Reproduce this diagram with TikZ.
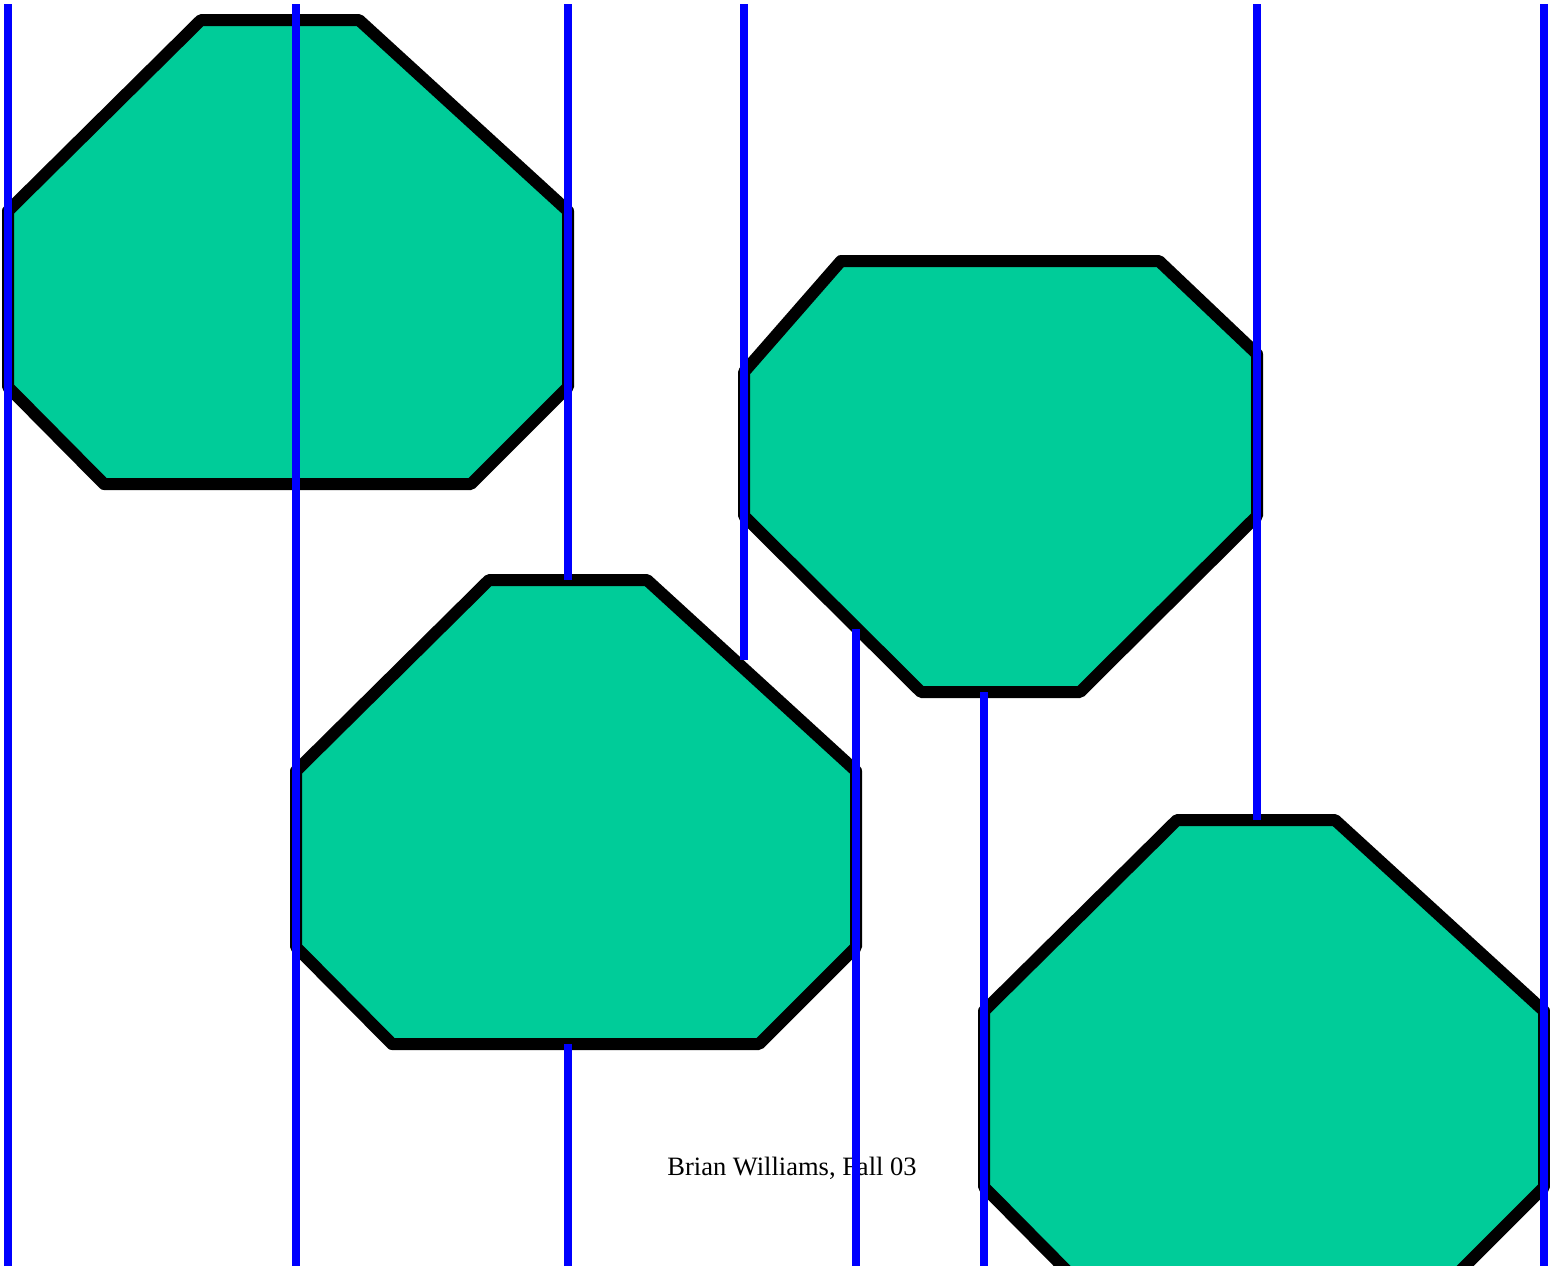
\documentclass[tikz,border=0pt]{standalone}
\usepackage{fontspec}
\setmainfont{Liberation Serif}
\definecolor{octfill}{RGB}{0,204,153}
\definecolor{lineblue}{RGB}{0,0,255}
\tikzset{
  octagon/.style={fill=octfill, draw=black, line width=12pt, line join=round},
  guide/.style={draw=lineblue, line width=8pt, line cap=butt},
  credit/.style={font=\fontsize{26.5}{31}\selectfont, anchor=base, inner sep=0pt}
}
\begin{document}
\begin{tikzpicture}[x=1pt,y=-1pt]
\useasboundingbox (0,0) rectangle (1550,1266);
\clip (0,0) rectangle (1550,1266);
% octagons
\path[octagon] (201,20) -- (359,20) -- (568,211) -- (568,387) -- (471,484) -- (104,484) -- (8,387) -- (8,211) -- cycle;
\path[octagon] (841,261) -- (1159,261) -- (1257,354) -- (1257,516) -- (1080,692) -- (921,692) -- (744,516) -- (744,372) -- cycle;
\path[octagon] (489,580) -- (647,580) -- (856,771) -- (856,947) -- (759,1044) -- (392,1044) -- (296,947) -- (296,771) -- cycle;
\path[octagon] (1177,820) -- (1335,820) -- (1544,1011) -- (1544,1187) -- (1447,1284) -- (1080,1284) -- (984,1187) -- (984,1011) -- cycle;
% credit
\node[credit] (credit) at (792,1175) {Brian Williams, Fall 03};
% guide lines
\coordinate (t1) at (8,4);    \coordinate (b1) at (8,1266);
\coordinate (t2) at (296,4);  \coordinate (b2) at (296,1266);
\coordinate (t3) at (568,4);  \coordinate (e3) at (568,580);
\coordinate (s3) at (568,1044); \coordinate (b3) at (568,1266);
\coordinate (t4) at (744,4);  \coordinate (e4) at (744,660);
\coordinate (s5) at (856,629); \coordinate (b5) at (856,1266);
\coordinate (s6) at (984,692); \coordinate (b6) at (984,1266);
\coordinate (t7) at (1257,4); \coordinate (e7) at (1257,820);
\coordinate (t8) at (1544,4); \coordinate (b8) at (1544,1266);
\draw[guide] (t1) -- (b1);
\draw[guide] (t2) -- (b2);
\draw[guide] (t3) -- (e3);
\draw[guide] (s3) -- (b3);
\draw[guide] (t4) -- (e4);
\draw[guide] (s5) -- (b5);
\draw[guide] (s6) -- (b6);
\draw[guide] (t7) -- (e7);
\draw[guide] (t8) -- (b8);
\end{tikzpicture}
\end{document}
